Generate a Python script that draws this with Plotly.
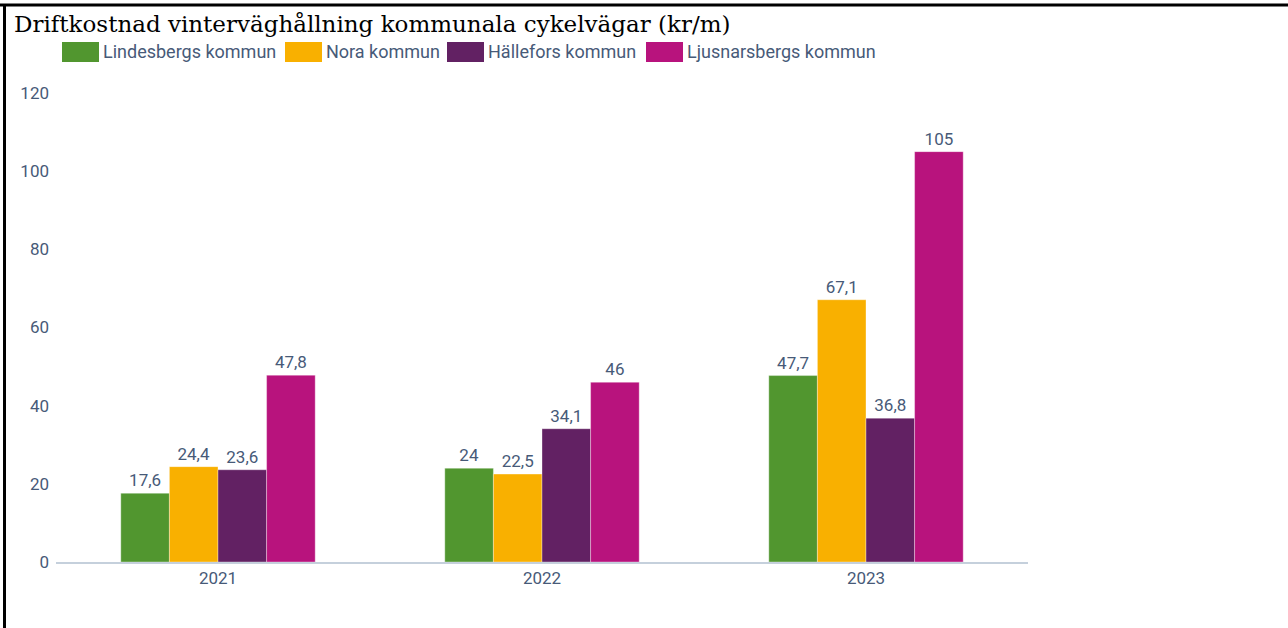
import plotly.graph_objects as go

# ---- data ----
years = ["2021", "2022", "2023"]
series_names = ["Lindesbergs kommun", "Nora kommun", "Hällefors kommun", "Ljusnarsbergs kommun"]
lindesberg = [17.6, 24.0, 47.7]
nora = [24.4, 22.5, 67.1]
hallefors = [23.6, 34.1, 36.8]
ljusnarsberg = [47.8, 46.0, 105.0]
y_ticks = [0, 20, 40, 60, 80, 100, 120]

# ---- style ----
colors = ["#51962f", "#f9b000", "#622163", "#b8137d"]
txt_color = "#475a78"
W, H = 1288, 628
ML, MR, MT, MB = 56, 260, 93, 66
PW, PH = W - ML - MR, H - MT - MB


def px2x(px):
    return (px - ML) / PW


def px2y(py):
    return (H - MB - py) / PH


def fmt(v):
    return f"{v:g}".replace(".", ",")


fig = go.Figure()
for name, vals, col in zip(series_names, [lindesberg, nora, hallefors, ljusnarsberg], colors):
    fig.add_trace(go.Bar(
        x=years, y=vals, name=name,
        marker=dict(color=col, line=dict(color="rgba(255,255,255,0.35)", width=1)),
        text=[fmt(v) for v in vals], textposition="outside",
        textfont=dict(family="Roboto", size=17, color=txt_color),
        cliponaxis=False, showlegend=False,
    ))

# custom legend (wide swatches like the reference)
legend_swatch_x = [62, 285, 447, 646]
swatch_w, swatch_top, swatch_bot = 37, 42, 62
shapes = []
annotations = []
for name, col, sx in zip(series_names, colors, legend_swatch_x):
    shapes.append(dict(type="rect", xref="paper", yref="paper",
                       x0=px2x(sx), x1=px2x(sx + swatch_w),
                       y0=px2y(swatch_bot), y1=px2y(swatch_top),
                       fillcolor=col, line=dict(width=0)))
    annotations.append(dict(xref="paper", yref="paper", x=px2x(sx + swatch_w + 2),
                            y=px2y((swatch_top + swatch_bot) / 2),
                            xanchor="left", yanchor="middle", showarrow=False,
                            text=name, font=dict(family="Roboto", size=18, color=txt_color)))

# black frame lines (top and left)
shapes.append(dict(type="line", xref="paper", yref="paper",
                   x0=px2x(0), x1=px2x(W), y0=px2y(5), y1=px2y(5),
                   line=dict(color="black", width=3)))
shapes.append(dict(type="line", xref="paper", yref="paper",
                   x0=px2x(4.5), x1=px2x(4.5), y0=px2y(4), y1=px2y(H + 5),
                   line=dict(color="black", width=3)))

fig.update_layout(
    width=W, height=H,
    margin=dict(l=ML, r=MR, t=MT, b=MB),
    paper_bgcolor="white", plot_bgcolor="white",
    barmode="group", bargap=0.4, bargroupgap=0,
    title=dict(text="Driftkostnad vinterväghållning kommunala cykelvägar (kr/m)",
               font=dict(family="DejaVu Serif", size=23, color="black"),
               x=14 / W, xanchor="left", xref="container",
               y=1 - 24 / H, yanchor="middle", yref="container"),
    xaxis=dict(showgrid=False, showline=True, linecolor="#c5d0dc", linewidth=2,
               ticks="", tickfont=dict(family="Roboto", size=17, color=txt_color)),
    yaxis=dict(range=[0, 120], tickvals=y_ticks, showgrid=False, zeroline=False,
               showline=False, ticks="", ticklabelstandoff=6,
               tickfont=dict(family="Roboto", size=17, color=txt_color)),
    shapes=shapes, annotations=annotations, showlegend=False,
)

fig.write_html("out.html", config={"displayModeBar": False},
               post_script="document.body.style.margin='0px';")
